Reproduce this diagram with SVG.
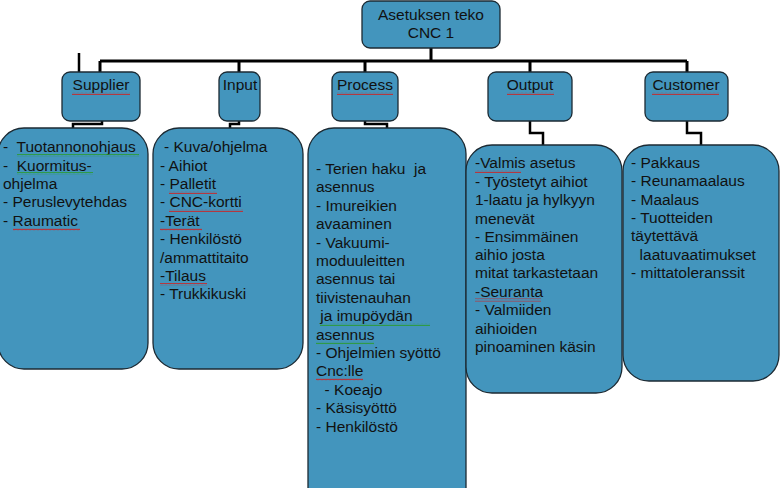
<svg xmlns="http://www.w3.org/2000/svg" width="782" height="488" viewBox="0 0 782 488">
<style>
.box{fill:#4395bd;stroke:#1c2a33;stroke-width:1.3}
.t{font-family:"Liberation Sans",Arial,sans-serif;font-size:15.5px;fill:#111}
.c{text-anchor:middle}
.ln{fill:none;stroke:#000;stroke-width:3}
.cn{fill:none;stroke:#000;stroke-width:2.5}
</style>
<defs>
<pattern id="wr" width="4" height="3" patternUnits="userSpaceOnUse"><path d="M0,2.2 L1,0.8 L2,2.2 L3,0.8 L4,2.2" stroke="#d02020" fill="none" stroke-width="0.8"/></pattern>
<pattern id="wg" width="4" height="3" patternUnits="userSpaceOnUse"><path d="M0,2.2 L1,0.8 L2,2.2 L3,0.8 L4,2.2" stroke="#2a9a2a" fill="none" stroke-width="0.8"/></pattern>
</defs>

<g id="connectors">
<path class="ln" d="M431,48 V61 M100,61 H687 M100,61 V72 M239,61 V72 M365,61 V72 M530,61 V72 M687,61 V72"/>
<path class="cn" d="M79,53 V72"/>
<path class="cn" d="M102,121 V124 H73 V128"/>
<path class="cn" d="M239,121 V124 H230 V128"/>
<path class="cn" d="M365,121 V124 H387 V128"/>
<path class="cn" d="M530,121 V133 H543 V145"/>
<path class="cn" d="M687,121 V133 H701 V145"/>
</g>

<g id="top">
<rect class="box" x="362" y="1" width="138" height="47" rx="8"/>
<text class="t c" x="431" y="20">Asetuksen teko</text>
<text class="t c" x="431" y="38">CNC 1</text>
</g>

<g id="supplier-head">
<rect class="box" x="62" y="72" width="78" height="49" rx="8"/>
<text class="t c" x="101" y="90">Supplier</text>
<rect x="72" y="92" width="58" height="3" fill="url(#wr)"/>
</g>
<g id="input-head">
<rect class="box" x="219" y="72" width="41" height="49" rx="8"/>
<text class="t c" x="240" y="90">Input</text>
</g>
<g id="process-head">
<rect class="box" x="332" y="72" width="66" height="49" rx="8"/>
<text class="t c" x="365" y="90">Process</text>
<rect x="337" y="92" width="56" height="3" fill="url(#wr)"/>
</g>
<g id="output-head">
<rect class="box" x="488" y="72" width="84" height="49" rx="8"/>
<text class="t c" x="530" y="90">Output</text>
<rect x="507" y="92" width="47" height="3" fill="url(#wr)"/>
</g>
<g id="customer-head">
<rect class="box" x="645" y="72" width="83" height="49" rx="8"/>
<text class="t c" x="686" y="90">Customer</text>
<rect x="652" y="92" width="67" height="3" fill="url(#wr)"/>
</g>

<g id="supplier-list">
<rect class="box" x="-2" y="128" width="150" height="241" rx="26"/>
<text class="t" x="3" y="152" xml:space="preserve">-  Tuotannonohjaus</text>
<text class="t" x="3" y="170.5" xml:space="preserve">-  Kuormitus-</text>
<text class="t" x="3" y="189">ohjelma</text>
<text class="t" x="3" y="207">- Peruslevytehdas</text>
<text class="t" x="3" y="226">- Raumatic</text>
<rect x="17" y="154" width="122" height="3" fill="url(#wg)"/>
<rect x="17" y="172" width="76" height="3" fill="url(#wg)"/>
<rect x="13" y="228" width="67" height="3" fill="url(#wr)"/>
</g>

<g id="input-list">
<rect class="box" x="153" y="128" width="150" height="241" rx="26"/>
<text class="t" x="164" y="152">- Kuva/ohjelma</text>
<text class="t" x="160" y="170.5">- Aihiot</text>
<text class="t" x="160" y="189">- Palletit</text>
<text class="t" x="160" y="207">- CNC-kortti</text>
<text class="t" x="160" y="226">-Terät</text>
<text class="t" x="160" y="244">- Henkilöstö</text>
<text class="t" x="160" y="262.5">/ammattitaito</text>
<text class="t" x="160" y="281">-Tilaus</text>
<text class="t" x="160" y="299">- Trukkikuski</text>
<rect x="169" y="191" width="48" height="3" fill="url(#wr)"/>
<rect x="169" y="209" width="74" height="3" fill="url(#wr)"/>
<rect x="160" y="228" width="42" height="3" fill="url(#wr)"/>
<rect x="160" y="283" width="47" height="3" fill="url(#wr)"/>
</g>

<g id="process-list">
<rect class="box" x="308" y="128" width="158" height="400" rx="26"/>
<text class="t" x="316" y="174" xml:space="preserve">- Terien haku  ja</text>
<text class="t" x="316" y="192.4">asennus</text>
<text class="t" x="316" y="210.8">- Imureikien</text>
<text class="t" x="316" y="229.2">avaaminen</text>
<text class="t" x="316" y="247.6">- Vakuumi-</text>
<text class="t" x="316" y="266">moduuleitten</text>
<text class="t" x="316" y="284.4">asennus tai</text>
<text class="t" x="316" y="302.8">tiivistenauhan</text>
<text class="t" x="316" y="321.2" xml:space="preserve"> ja imupöydän</text>
<text class="t" x="316" y="339.6">asennus</text>
<text class="t" x="316" y="358">- Ohjelmien syöttö</text>
<text class="t" x="316" y="376.4">Cnc:lle</text>
<text class="t" x="316" y="394.8" xml:space="preserve">  - Koeajo</text>
<text class="t" x="316" y="413.2">- Käsisyöttö</text>
<text class="t" x="316" y="431.6">- Henkilöstö</text>
<rect x="320" y="323" width="110" height="3" fill="url(#wg)"/>
<rect x="316" y="341.5" width="58" height="3" fill="url(#wg)"/>
<rect x="316" y="378" width="47" height="3" fill="url(#wr)"/>
</g>

<g id="output-list">
<rect class="box" x="466" y="145" width="156" height="248" rx="26"/>
<text class="t" x="475" y="168">-Valmis asetus</text>
<text class="t" x="475" y="186.5">- Työstetyt aihiot</text>
<text class="t" x="475" y="205">1-laatu ja hylkyyn</text>
<text class="t" x="475" y="223.5">menevät</text>
<text class="t" x="475" y="242">- Ensimmäinen</text>
<text class="t" x="475" y="260">aihio josta</text>
<text class="t" x="475" y="278">mitat tarkastetaan</text>
<text class="t" x="475" y="296.5">-Seuranta</text>
<text class="t" x="475" y="315">- Valmiiden</text>
<text class="t" x="475" y="333.5">aihioiden</text>
<text class="t" x="475" y="352">pinoaminen käsin</text>
<rect x="475" y="170" width="46" height="3" fill="url(#wr)"/>
<rect x="475" y="298.5" width="66" height="3" fill="url(#wr)"/>
</g>

<g id="customer-list">
<rect class="box" x="623" y="145" width="156" height="236" rx="26"/>
<text class="t" x="631" y="168">- Pakkaus</text>
<text class="t" x="631" y="186">- Reunamaalaus</text>
<text class="t" x="631" y="204.5">- Maalaus</text>
<text class="t" x="631" y="223">- Tuotteiden</text>
<text class="t" x="631" y="241">täytettävä</text>
<text class="t" x="631" y="259.5" xml:space="preserve">  laatuvaatimukset</text>
<text class="t" x="631" y="277.5">- mittatoleranssit</text>
</g>
</svg>
